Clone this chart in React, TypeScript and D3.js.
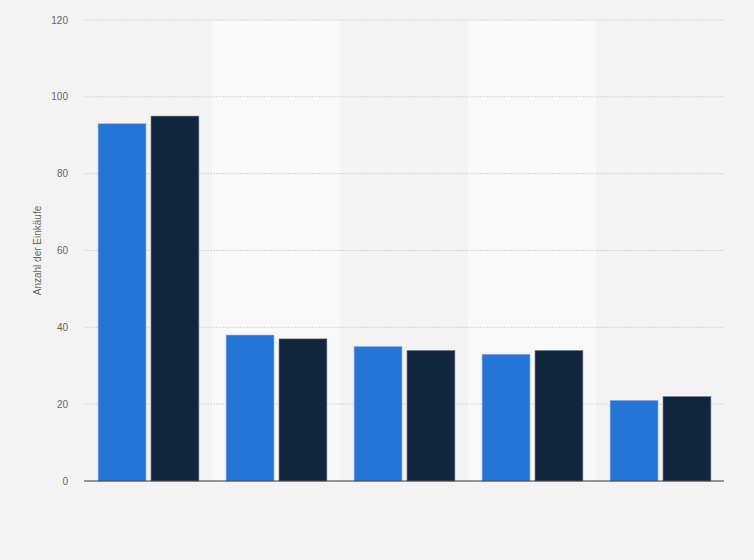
import React from "react";
import * as d3 from "d3";

const categories = ["A", "B", "C", "D", "E"];
const seriesA = [93, 38, 35, 33, 21];
const seriesB = [95, 37, 34, 34, 22];
const yTicks = [0, 20, 40, 60, 80, 100, 120];

const W = 754;
const H = 560;
const margin = { top: 20, right: 30, bottom: 79, left: 84 };

export default function App() {
  const innerW = W - margin.left - margin.right;
  const innerH = H - margin.top - margin.bottom;

  const x = d3.scaleBand<string>().domain(categories).range([0, innerW]);
  // two bars per group, ~48px wide with a 5px gap, inset from the band edges
  const inset = x.bandwidth() * 0.11;
  const inner = d3
    .scaleBand<string>()
    .domain(["a", "b"])
    .range([inset, x.bandwidth() - inset + 1])
    .paddingInner(0.094);
  const y = d3.scaleLinear().domain([0, 120]).range([innerH, 0]);

  const font = "'Liberation Sans', Arial, sans-serif";

  return (
    <svg
      width={W}
      height={H}
      style={{ position: "absolute", left: 0, top: 0, background: "#f3f3f3" }}
    >
      <g transform={`translate(${margin.left},${margin.top})`}>
        {/* alternating column bands */}
        {categories.map((c, i) =>
          i % 2 === 1 ? (
            <rect key={c} x={x(c)} y={0} width={x.bandwidth()} height={innerH} fill="#f8f8f8" />
          ) : null
        )}

        {/* grid */}
        {yTicks.filter(t => t > 0).map(t => (
          <line
            key={t}
            x1={0}
            x2={innerW}
            y1={y(t)}
            y2={y(t)}
            stroke="#d6d6d6"
            strokeDasharray="2,1"
            strokeWidth={1}
          />
        ))}

        {/* bars */}
        {categories.map((c, i) => (
          <g key={c} transform={`translate(${x(c)},0)`}>
            <rect
              x={inner("a")}
              y={y(seriesA[i])}
              width={inner.bandwidth()}
              height={innerH - y(seriesA[i])}
              fill="#2574d8"
              stroke="#8fb8ee"
              strokeWidth={0.6}
            />
            <rect
              x={inner("b")}
              y={y(seriesB[i])}
              width={inner.bandwidth()}
              height={innerH - y(seriesB[i])}
              fill="#10263d"
              stroke="#7c8794"
              strokeWidth={0.6}
            />
          </g>
        ))}

        {/* baseline */}
        <line x1={0} x2={innerW} y1={innerH} y2={innerH} stroke="#333" strokeWidth={1} />

        {/* y tick labels */}
        {yTicks.map(t => (
          <text
            key={t}
            x={-16}
            y={y(t)}
            dy="0.35em"
            textAnchor="end"
            fill="#666"
            fontSize={10}
            fontFamily={font}
          >
            {t}
          </text>
        ))}

        {/* y axis title */}
        <text
          transform={`translate(${-43},${innerH / 2}) rotate(-90)`}
          textAnchor="middle"
          fill="#666"
          fontSize={10}
          fontFamily={font}
        >
          Anzahl der Einkäufe
        </text>
      </g>
    </svg>
  );
}
